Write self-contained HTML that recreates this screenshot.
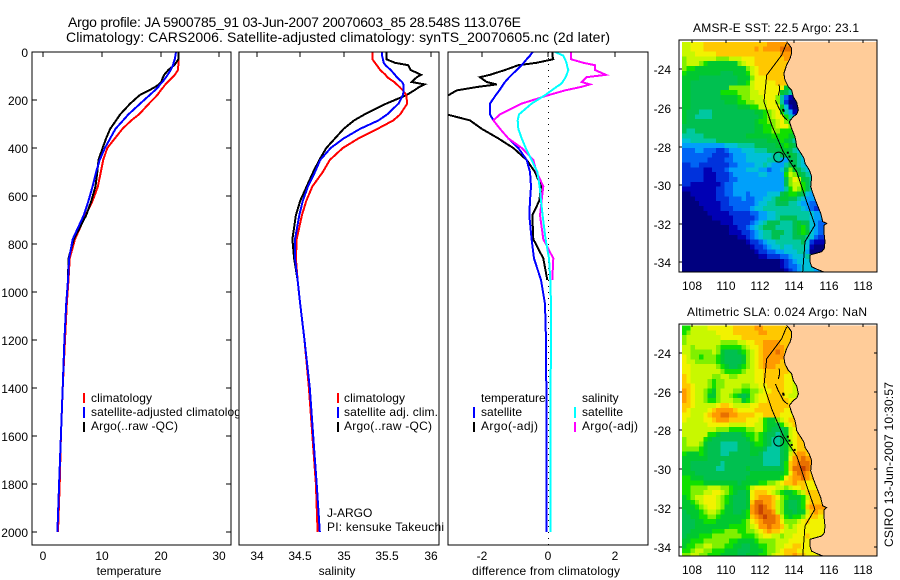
<!DOCTYPE html>
<html lang="en">
<head>
<meta charset="utf-8">
<title>Argo profile JA 5900785_91</title>
<style>
html,body{margin:0;padding:0;background:#fff}
svg{display:block;font-family:"Liberation Sans",Arial,sans-serif;font-size:12px;fill:#000}
text{stroke:none}
.frame{fill:none;stroke:#000;stroke-width:1;shape-rendering:crispEdges}
.bar{shape-rendering:crispEdges}
</style>
</head>
<body>
<svg id="figure" xmlns="http://www.w3.org/2000/svg" width="900" height="580" viewBox="0 0 900 580">
<defs>
<clipPath id="clip-temp"><rect x="32" y="52" width="199" height="493"/></clipPath>
<clipPath id="clip-sal"><rect x="239" y="52" width="200" height="493"/></clipPath>
<clipPath id="clip-diff"><rect x="448" y="52" width="200" height="493"/></clipPath>
<clipPath id="clip-sst"><rect x="679" y="40" width="198" height="232"/></clipPath>
<clipPath id="clip-sla"><rect x="679" y="324" width="198" height="232"/></clipPath>
</defs>
<rect width="900" height="580" fill="#fff"/>
<text x="68" y="27" font-size="14" textLength="453">Argo profile: JA 5900785_91 03-Jun-2007 20070603_85 28.548S 113.076E</text>
<text x="66" y="42" font-size="14" textLength="544">Climatology: CARS2006. Satellite-adjusted climatology: synTS_20070605.nc (2d later)</text>

<g id="panel-temp">
<rect x="32" y="52" width="199" height="493" fill="#fff"/>
<g id="marks-temp" clip-path="url(#clip-temp)" fill="none"></g>
<g id="axis-temp"></g>
<text x="129" y="575" text-anchor="middle">temperature</text>
<g>
<rect class="bar" x="83" y="393" width="2" height="10" fill="#f00"/>
<text x="91" y="402" textLength="61">climatology</text>
<rect class="bar" x="83" y="407" width="2" height="11" fill="#00f"/>
<text x="91" y="416" textLength="156">satellite-adjusted climatology</text>
<rect class="bar" x="83" y="422" width="2" height="10" fill="#000"/>
<text x="91" y="430" textLength="87">Argo(..raw -QC)</text>
</g>
<rect class="frame" x="32" y="52" width="199" height="493"/>
</g>

<g id="panel-sal">
<rect x="239" y="52" width="200" height="493" fill="#fff"/>
<g id="marks-sal" clip-path="url(#clip-sal)" fill="none"></g>
<g id="axis-sal"></g>
<text x="337" y="575" text-anchor="middle">salinity</text>
<rect class="frame" x="239" y="52" width="200" height="493"/>
<g>
<rect class="bar" x="337" y="393" width="2" height="10" fill="#f00"/>
<text x="344" y="402" textLength="61">climatology</text>
<rect class="bar" x="337" y="407" width="2" height="11" fill="#00f"/>
<text x="344" y="416" textLength="94">satellite adj. clim.</text>
<rect class="bar" x="337" y="422" width="2" height="10" fill="#000"/>
<text x="344" y="430" textLength="88">Argo(..raw -QC)</text>
</g>
<text x="327" y="517">J-ARGO</text>
<text x="327" y="531" textLength="117">PI: kensuke Takeuchi</text>
</g>

<g id="panel-diff">
<rect x="448" y="52" width="200" height="493" fill="#fff"/>
<g id="marks-diff" clip-path="url(#clip-diff)" fill="none"></g>
<g id="axis-diff"></g>
<text x="472" y="575" textLength="148">difference from climatology</text>
<g>
<text x="481" y="402">temperature</text>
<rect class="bar" x="473" y="407" width="2" height="11" fill="#00f"/>
<text x="481" y="416" textLength="41">satellite</text>
<rect class="bar" x="473" y="422" width="2" height="10" fill="#000"/>
<text x="481" y="430" textLength="57">Argo(-adj)</text>
<text x="582" y="402">salinity</text>
<rect class="bar" x="574" y="407" width="2" height="11" fill="#0ff"/>
<text x="582" y="416" textLength="41">satellite</text>
<rect class="bar" x="574" y="422" width="2" height="10" fill="#f0f"/>
<text x="582" y="430" textLength="56">Argo(-adj)</text>
</g>
<rect class="frame" x="448" y="52" width="200" height="493"/>
</g>

<g id="panel-sst">
<text x="776" y="32" text-anchor="middle" textLength="166">AMSR-E SST: 22.5 Argo: 23.1</text>
<g id="cells-sst" class="bar" clip-path="url(#clip-sst)"></g>
<g id="geo-sst" clip-path="url(#clip-sst)"></g>
<g id="axis-sst"></g>
<rect class="frame" x="679" y="40" width="198" height="232"/>
</g>

<g id="panel-sla">
<text x="777" y="316" text-anchor="middle" textLength="180">Altimetric SLA: 0.024 Argo: NaN</text>
<g id="cells-sla" class="bar" clip-path="url(#clip-sla)"></g>
<g id="geo-sla" clip-path="url(#clip-sla)"></g>
<g id="axis-sla"></g>
<rect class="frame" x="679" y="324" width="198" height="232"/>
</g>
<text transform="translate(893 547) rotate(-90)" textLength="165">CSIRO 13-Jun-2007 10:30:57</text>
</svg>

<script>
// ---- profile data ----
const depthLevels = [0,15,30,45,55,75,95,105,125,135,145,160,180,215,260,285,320,360,400,450,500,560,620,680,780,860,950,1050,1200,1400,1600,1800,2000];
const tempClimatology = [23,23,23,23,23,22.95,22.4,22,21.2,20.8,20.5,20,19.4,18,16.3,15,13.5,12.2,10.9,10.2,9.8,9.3,8.4,7.2,5.4,4.5,4.3,4,3.7,3.3,3,2.8,2.5];
const tempSatellite = [22.6,22.5,22.4,22.2,22.1,21.7,21.2,20.9,20.3,19.9,19.6,19,18.1,16.5,14.5,13.6,12.3,11.4,10.5,9.6,9,8.4,7.7,6.9,5,4.4,4.2,3.9,3.6,3.3,3,2.7,2.4];
const tempArgo = [23,23,23,22.6,22.3,21.3,20.6,20.4,20.1,19.7,19.1,18,16.4,14.8,13.1,12.4,11.4,10.7,10.1,9.4,9.2,8.9,8.2,7.3,5.2,4.3,4.2];
const salClimatology = [35.33,35.33,35.33,35.36,35.38,35.42,35.48,35.5,35.58,35.61,35.64,35.68,35.72,35.73,35.65,35.57,35.39,35.17,34.99,34.84,34.76,34.64,34.57,34.52,34.46,34.45,34.47,34.5,34.55,34.6,34.64,34.68,34.7];
const salSatellite = [35.44,35.44,35.45,35.46,35.48,35.54,35.59,35.61,35.67,35.685,35.69,35.69,35.68,35.63,35.5,35.4,35.19,35,34.85,34.73,34.67,34.59,34.53,34.49,34.44,34.44,34.47,34.5,34.55,34.61,34.65,34.69,34.725];
const salArgo = [35.49,35.49,35.49,35.59,35.74,35.77,35.89,35.84,35.78,35.93,35.87,35.81,35.72,35.49,35.24,35.12,35,34.9,34.8,34.72,34.65,34.575,34.5,34.45,34.41,34.43,34.47];
const diffTempSatellite = [-0.47,-0.55,-0.65,-0.74,-0.8,-0.95,-1.1,-1.17,-1.3,-1.35,-1.4,-1.47,-1.58,-1.75,-1.75,-1.65,-1.45,-1.2,-0.9,-0.65,-0.55,-0.52,-0.55,-0.57,-0.5,-0.43,-0.22,-0.1,-0.07,-0.06,-0.05,-0.05,-0.05];
const diffTempArgo = [0.12,0.12,0.15,-0.35,-0.9,-1.3,-1.75,-2.05,-1.85,-1.55,-2.1,-2.75,-3,-3.3,-3.05,-2.35,-2,-1.5,-1.05,-0.65,-0.4,-0.22,-0.27,-0.48,-0.45,-0.15,-0.03];
const diffSalSatellite = [0.2,0.45,0.5,0.55,0.56,0.6,0.55,0.52,0.43,0.36,0.25,0.1,-0.1,-0.5,-0.88,-0.92,-0.9,-0.8,-0.68,-0.5,-0.33,-0.26,-0.22,-0.17,-0.08,0.02,0.06,0.08,0.08,0.07,0.07,0.07,0.06];
const diffSalArgo = [0.68,0.68,0.68,1.05,1.4,1.4,1.73,1.15,1,1.25,1,0.5,0,-0.8,-1.45,-1.65,-1.45,-1.2,-0.8,-0.45,-0.35,-0.15,-0.2,-0.25,-0.15,0.15,0.12];

// ---- tick labels ----
const depthTicks = [0,200,400,600,800,1000,1200,1400,1600,1800,2000];
const tempTicks = [0,10,20,30];
const salTicks = [34,34.5,35,35.5,36];
const diffTicks = [-2,0,2];
const lonTicks = [108,110,112,114,116,118];
const latTicks = [-24,-26,-28,-30,-32,-34];

// ---- map data: one character per 0.25-degree cell, base-17 colour level (spaces only group columns) ----
const sstRows = [
"bbccc ddddd ddddd ddddd eeeee f",
"bbccc ddddd ddddd ddede eeeff f",
"bbbcc cccdd ddddd ddddd dddee eef",
"abbbb bbbaa abbbc ccddd dddde ee",
"abbba 98888 888ab ccddd ddddd ee",
"a9988 88888 88888 abcdd ddddd ee",
"98888 88887 77888 9bcdd ddddd dee",
"88887 77777 77788 8accc ddddd dde",
"88777 77777 77788 9bccc ccddd ddc",
"88777 77777 7aaaa abccc cccc8 7",
"88777 77779 999aa abbcc ccc87 6",
"88777 77778 8889a abbbc cca63 10",
"88777 77777 88899 aabbb cca62 00",
"88777 77777 77788 899bb ccc85 100",
"87776 66777 77777 77889 abc96 410",
"87766 66777 77777 77789 abcc9 642",
"87777 77777 77777 77899 aabca 87",
"77777 77777 77777 77889 9abcc a9",
"76677 77777 77777 77889 9aa99 9",
"66666 77777 77777 88888 8999 98",
"55666 66677 77777 77777 88898 765",
"44444 44444 55566 66777 77889 876",
"33344 33322 34445 55666 77788 765",
"33333 33222 23444 55555 56677 8765",
"33333 32222 33444 55555 66644 77655",
"22332 22222 23344 44556 54446 77655",
"22222 11222 34444 55544 34457 a8765",
"22222 11122 23444 44455 44449 ba8765",
"22222 11122 23344 44444 44447 acb8765",
"22111 11112 33444 44444 44447 abb9765",
"11111 11122 33444 44444 44446 9ba9765",
"00111 11122 33444 34444 55578 99875 4",
"00011 11122 23334 33445 56788 77654 4",
"00001 11112 23333 33455 66777 66544 33",
"00000 11112 22333 34556 66666 66654 32",
"00000 01111 12222 23344 55666 66666 54",
"00000 00111 11222 22344 55677 77666 54",
"00000 00001 11222 23456 77766 67877 543",
"00000 00000 01122 34567 77666 67897 543",
"00000 00000 01112 23456 67776 67898 543",
"00000 00000 00011 23456 67766 67776 532",
"00000 00000 00000 12234 55666 66675 21",
"00000 00000 00000 01223 45565 56665 100",
"00000 00000 00000 00122 33445 55664 0",
"00000 00000 00000 00011 22233 45556",
"00000 00000 00000 00000 00012 34555",
"00000 00000 00000 00000 00012 33455 5",
"00000 00000 00000 00000 00001 23455 54"
];
const slaRows = [
"99bbb bcccc ccddd ddeed ddddd dde",
"9abbb bbbcc ccddd dddee ddddd ddee",
"abbbb bbbbc ccccd ddddd ddddd dddde",
"abbbb bbbba aaabb ccdde eeedd ddde",
"bbabb bbba9 9999a bccde eeeed dddcc",
"bbaaa aaba8 77789 abcde eefed ddcc",
"cbaa9 aaa98 77778 abcde eeeed dccc",
"cbbaa aaa98 77778 abcde eeedd dccc",
"ccbbb bbba9 87789 abcde eeddd cccc",
"ccbbb bbbba 9999a bbccd ddddd cccc",
"dcbbb bbaab baabb bbccd ddddc cbbc",
"dcbbb ba9aa bbbbb bbccd ddddc cbbb",
"ddcbb ba9aa bbbba abbcc ddddc cbbbc",
"edcbb a98ab bbaa9 9aabc cdddc cbbcd",
"edcbb a88ab ba987 8abcc ddddc bbcd",
"edcbb a99ab bbaa8 9abcc ddddd ccbd",
"ddcbb bbbcd dcbbb bccdd ddddd dcc",
"dcbbb bcdee eedcc ccddd ddddc ccc",
"ccbbb cdeef feedd ddccd dddcc ccc",
"cbbbb ccdee edddd cccb9 88abc dddd",
"bbbbb bcccc cbbbb ccbb9 8879b cddd",
"bbbbb bbbaa a9999 aabb9 87778 bcddd",
"bbbbb b9987 77778 99a98 77678 bcdde",
"abbbb 98777 77777 89a98 76678 bcddd",
"abbba 87776 66677 78998 76678 acdddc",
"aaaa9 87776 66677 78887 66678 acdddc",
"98889 87776 67777 78876 66678 bdeedd",
"88888 87777 77777 77776 66678 ceefeed",
"88777 77776 77777 77776 66679 defffed",
"88777 77766 77777 87777 77779 dffgfed",
"88877 77777 77777 78888 88889 ceffedc",
"99888 77777 77777 88888 8889c deefedc",
"99999 88888 88878 88899 aabcd deddccd",
"99aaa abbba a9888 9bccc ccbba bccdc",
"99aaa bbccb a9877 8cddd cba98 89abdd",
"89abb cccba 98777 8cdee edca9 8889bdd",
"889ab cccba 98777 8dffe edba8 7789cdd",
"8889a bccba 88777 8efgf edba8 7789dee",
"78889 abba9 88778 9efgf feba8 8788bded",
"77889 9aa98 88888 9defg ffeb9 899acddc",
"77788 99988 88889 acdef ffeca aabcdcc",
"77788 88888 89999 abcee feedb abccccc",
"77888 88999 aaa99 aabcd eddcb bbcccc",
"78889 99aaa aaaa9 99abc cbbab bcccdcc",
"88999 aaaaa a9988 889aa aabbb ccccc",
"899aa bbaaa 99887 78899 aabbc cddcc",
"99abb aa999 88877 78889 aabcd ddccc",
"aabba a9998 88877 88899 abccd deddc"
];
const mapPalette = ["#00007f","#0000b4","#0032dc","#0064f5","#00a0fa","#00c0d8","#00c8a0","#00c050","#00c830","#10e000","#80f000","#c8f800","#f2f200","#ffc800","#ff9a00","#e87000","#c84400"];

// ---- geography ----
const coastLon = [113.54,113.7,113.83,113.83,113.74,113.54,113.38,113.44,113.64,113.83,113.93,114.13,114.23,114.13,113.93,113.7,113.83,114.03,114.09,114.13,114.32,114.56,114.62,114.87,115.01,114.95,115.11,115.3,115.54,115.66,115.89,115.73,115.73,115.79,115.75,115.6,114.91,114.91,115.01,115.3,115.69];
const coastLat = [-22.57,-22.74,-22.91,-23.17,-23.43,-23.78,-24.21,-24.55,-24.9,-25.07,-25.42,-25.71,-26.11,-26.33,-26.45,-26.71,-27.06,-27.49,-27.75,-28.01,-28.27,-28.61,-28.87,-29.22,-29.56,-30.08,-30.51,-30.94,-31.46,-31.89,-31.98,-32.1,-32.41,-32.93,-33.28,-33.45,-33.62,-33.97,-34.23,-34.35,-34.49];
const isobathLon = [113.54,113.25,112.37,112.21,112.66,113.34,114.13,114.72,115.2,114.62,114.48];
const isobathLat = [-22.65,-23.26,-24.3,-25.68,-26.89,-28.27,-29.31,-30.86,-32.07,-32.93,-34.49];
const islandLon = [112.88,113.05,113.2,113.35,113.6];
const islandLat = [-25.6,-25.95,-26.2,-26.45,-26.65];
const bayEdgeLon = [113.1,113.12,113.05];
const bayEdgeLat = [-24.8,-25.1,-25.35];
const reefLon = [113.3,113.55,113.65,113.78,113.95,113.28];
const reefLat = [-26.1,-28.27,-28.47,-28.7,-28.95,-26.05];
const floatLon = [113.076];
const floatLat = [-28.548];

const NS = 'http://www.w3.org/2000/svg';
function make(parent, tag, attrs, text) {
  const node = document.createElementNS(NS, tag);
  for (const key in attrs) node.setAttribute(key, attrs[key]);
  if (text !== undefined) node.textContent = text;
  document.getElementById(parent).appendChild(node);
  return node;
}

// ---- axis functions ----
const yDepth = d => 52 + d * 0.24;
const xTemp = v => 43.3 + v * 5.87;
const xSal = v => 256.7 + (v - 34) * 87;
const xDiff = v => 548.3 + v * 33.3;
const xLon = lon => 692.3 + (lon - 108) * 17.03;
const ySst = lat => 69.3 + (-24 - lat) * 19.3;
const ySla = lat => 353 + (-24 - lat) * 19.37;

function drawSeries(parent, xFn, values, colour, name) {
  const pts = values.map((v, i) => xFn(v).toFixed(1) + ',' + yDepth(depthLevels[i]).toFixed(1)).join(' ');
  const line = make(parent, 'polyline', {points: pts, stroke: colour, 'stroke-width': 2, 'shape-rendering': 'crispEdges'});
  
  
}
drawSeries('marks-temp', xTemp, tempClimatology, '#f00', 'temperature-climatology-line');
drawSeries('marks-temp', xTemp, tempArgo, '#000', 'temperature-argo-line');
drawSeries('marks-temp', xTemp, tempSatellite, '#00f', 'temperature-satellite-line');
drawSeries('marks-sal', xSal, salArgo, '#000', 'salinity-argo-line');
drawSeries('marks-sal', xSal, salClimatology, '#f00', 'salinity-climatology-line');
drawSeries('marks-sal', xSal, salSatellite, '#00f', 'salinity-satellite-line');

const zeroLine = make('marks-diff', 'line', {x1: xDiff(0), x2: xDiff(0), y1: 52, y2: 545, stroke: '#000', 'stroke-width': 1, 'stroke-dasharray': '1 5', 'shape-rendering': 'crispEdges'});


drawSeries('marks-diff', xDiff, diffTempArgo, '#000', 'difference-temperature-argo-line');
drawSeries('marks-diff', xDiff, diffTempSatellite, '#00f', 'difference-temperature-satellite-line');
drawSeries('marks-diff', xDiff, diffSalArgo, '#f0f', 'difference-salinity-argo-line');
drawSeries('marks-diff', xDiff, diffSalSatellite, '#0ff', 'difference-salinity-satellite-line');

function tickMark(parent, x1, y1, x2, y2) {
  const t = make(parent, 'line', {x1, y1, x2, y2, stroke: '#000', 'stroke-width': 1, 'shape-rendering': 'crispEdges'});
  
  
}
function tickText(parent, x, y, anchor, label) {
  const t = make(parent, 'text', {x, y, 'text-anchor': anchor}, label);
  
  
}
function xAxis(parent, ticks, xFn, top, labelY) {
  ticks.forEach(v => {
    const x = Math.round(xFn(v));
    tickMark(parent, x, top, x, top + 5);
    tickText(parent, x, labelY, 'middle', String(v));
  });
}
xAxis('axis-temp', tempTicks, xTemp, 52, 560);
xAxis('axis-sal', salTicks, xSal, 52, 560);
xAxis('axis-diff', diffTicks, xDiff, 52, 560);
depthTicks.forEach(d => {
  const y = Math.round(yDepth(d));
  tickMark('axis-temp', 32, y, 37, y);
  tickMark('axis-temp', 226, y, 231, y);
  tickText('axis-temp', 28, y + 5, 'end', String(d));
});

function drawCells(parent, rows, yFn, name) {
  const dLon = 0.25, dLat = 0.25, lon0 = 107.395, lat0 = -22.58;
  rows.forEach((row, r) => {
    const clean = row.replace(/ /g, '');
    const full = clean.padEnd(38, clean[clean.length - 1]);
    for (let c = 0; c < full.length; c++) {
      const x0 = xLon(lon0 + c * dLon), y0 = yFn(lat0 - r * dLat);
      const cell = make(parent, 'rect', {
        x: x0.toFixed(2), y: y0.toFixed(2),
        width: (dLon * 17.03 + 0.4).toFixed(2), height: (dLat * 19.3 + 0.4).toFixed(2),
        fill: mapPalette[parseInt(full[c], 17)]
      });
      
      
    }
  });
}
drawCells('cells-sst', sstRows, ySst, 'sst-cell');
drawCells('cells-sla', slaRows, ySla, 'sla-cell');

function drawGeo(parent, yFn) {
  const pts = (lons, lats) => lons.map((lon, i) => xLon(lon).toFixed(1) + ',' + yFn(lats[i]).toFixed(1)).join(' ');
  const topY = yFn(-22.58);
  const land = make(parent, 'polygon', {points: pts(coastLon, coastLat) + ' 880,' + (topY + 240) + ' 880,' + topY, fill: '#ffcc99', stroke: 'none'});
  
  
  const coast = make(parent, 'polyline', {points: pts(coastLon, coastLat), fill: 'none', stroke: '#000', 'stroke-width': 1, 'shape-rendering': 'crispEdges'});
  
  
  const iso = make(parent, 'polyline', {points: pts(isobathLon, isobathLat), fill: 'none', stroke: '#000', 'stroke-width': 1, 'shape-rendering': 'crispEdges'});
  
  
  const island = make(parent, 'polyline', {points: pts(islandLon, islandLat), fill: 'none', stroke: '#000', 'stroke-width': 1, 'shape-rendering': 'crispEdges'});
  
  
  const bay = make(parent, 'polyline', {points: pts(bayEdgeLon, bayEdgeLat), fill: 'none', stroke: '#000', 'stroke-width': 1, 'shape-rendering': 'crispEdges'});
  
  
  reefLon.forEach((lon, i) => {
    const reef = make(parent, 'rect', {x: xLon(lon).toFixed(1), y: yFn(reefLat[i]).toFixed(1), width: 2, height: 2, fill: '#000'});
    
    
  });
  const marker = make(parent, 'circle', {cx: xLon(floatLon[0]), cy: yFn(floatLat[0]), r: 5, fill: 'none', stroke: '#000', 'stroke-width': 1});
  
  
}
drawGeo('geo-sst', ySst);
drawGeo('geo-sla', ySla);

function mapAxis(parent, yFn, top, labelY, rightTicks) {
  lonTicks.forEach(lon => {
    const x = Math.round(xLon(lon));
    tickMark(parent, x, top, x, top + 3);
    tickText(parent, x, labelY, 'middle', String(lon));
  });
  latTicks.forEach(lat => {
    const y = Math.round(yFn(lat));
    tickMark(parent, 679, y, 682, y);
    if (rightTicks) tickMark(parent, 874, y, 877, y);
    tickText(parent, 671, y + 5, 'end', String(lat));
  });
}
mapAxis('axis-sst', ySst, 40, 290, false);
mapAxis('axis-sla', ySla, 324, 574, true);
</script>
</body>
</html>
